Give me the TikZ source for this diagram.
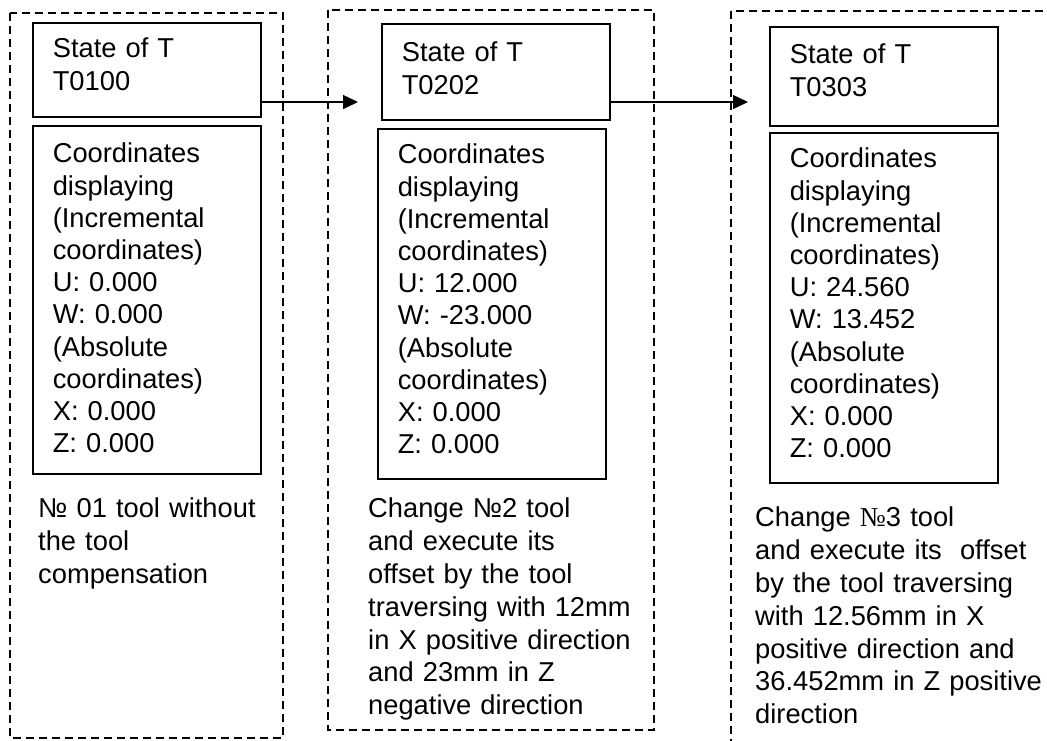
\documentclass[tikz,border=0pt]{standalone}
\usepackage{fontspec}
\setmainfont{Liberation Sans}
\newfontfamily\noserif{Liberation Serif}
\usetikzlibrary{arrows.meta}

\tikzset{
  panel/.style={line width=1.3pt,dash pattern=on 8pt off 5pt},
  cbox/.style={draw,line width=1.6pt,anchor=north west,inner xsep=20pt,inner ysep=0pt,
    text width=188pt,align=left,font=\fontsize{27.3}{32.2}\selectfont},
  note/.style={anchor=north west,inner sep=0pt,text width=300pt,align=left,
    font=\fontsize{27.3}{32.8}\selectfont},
  flow/.style={line width=1.3pt,-{Triangle[length=15pt,width=14pt]}}
}

\begin{document}
\begin{tikzpicture}[x=1pt,y=-1pt]
\useasboundingbox (0,0) rectangle (1047,740);
\fill[white] (0,0) rectangle (1047,740);
\clip (0,0) rectangle (1047,740);
% dashed panels
\draw[panel] (10,13) rectangle (283,738);
\draw[panel] (328,10) rectangle (654,730);
\draw[panel] (731,11) rectangle (1080,780);
% first tool
\node[cbox,text height=35pt,text depth=59pt] (t1) at (32,22) {State of T\\T0100};
\node[cbox,text height=37pt,text depth=311pt] (c1) at (32,125)
  {Coordinates\\displaying\\(Incremental\\coordinates)\\U: 0.000\\W: 0.000\\(Absolute\\coordinates)\\X: 0.000\\Z: 0.000};
\node[note] (n1) at (38,498) {№ 01 tool without\\the tool\\compensation};
% second tool
\node[cbox,text height=38pt,text depth=58pt] (t2) at (381,23) {State of T\\T0202};
\node[cbox,text height=35pt,text depth=315pt] (c2) at (377,128)
  {Coordinates\\displaying\\(Incremental\\coordinates)\\U: 12.000\\W: -23.000\\(Absolute\\coordinates)\\X: 0.000\\Z: 0.000};
\node[note] (n2) at (368,498) {Change №2 tool\\and execute its\\offset by the tool\\traversing with 12mm\\in X positive direction\\and 23mm in Z\\negative direction};
% third tool
\node[cbox,text height=37pt,text depth=62pt] (t3) at (769,26) {State of T\\T0303};
\node[cbox,text height=35pt,text depth=315pt] (c3) at (769,132)
  {Coordinates\\displaying\\(Incremental\\coordinates)\\U: 24.560\\W: 13.452\\(Absolute\\coordinates)\\X: 0.000\\Z: 0.000};
\node[note] (n3) at (755,507) {Change\ {\noserif №}3 tool\\and execute its\ \ offset\\by the tool traversing\\with 12.56mm in X\\positive direction and\\36.452mm in Z positive\\direction};
% tool change arrows
\coordinate (a1) at (358,102);
\coordinate (a2) at (748,102);
\draw[flow] (t1.east |- a1) -- (a1);
\draw[flow] (t2.east |- a2) -- (a2);
\end{tikzpicture}
\end{document}
